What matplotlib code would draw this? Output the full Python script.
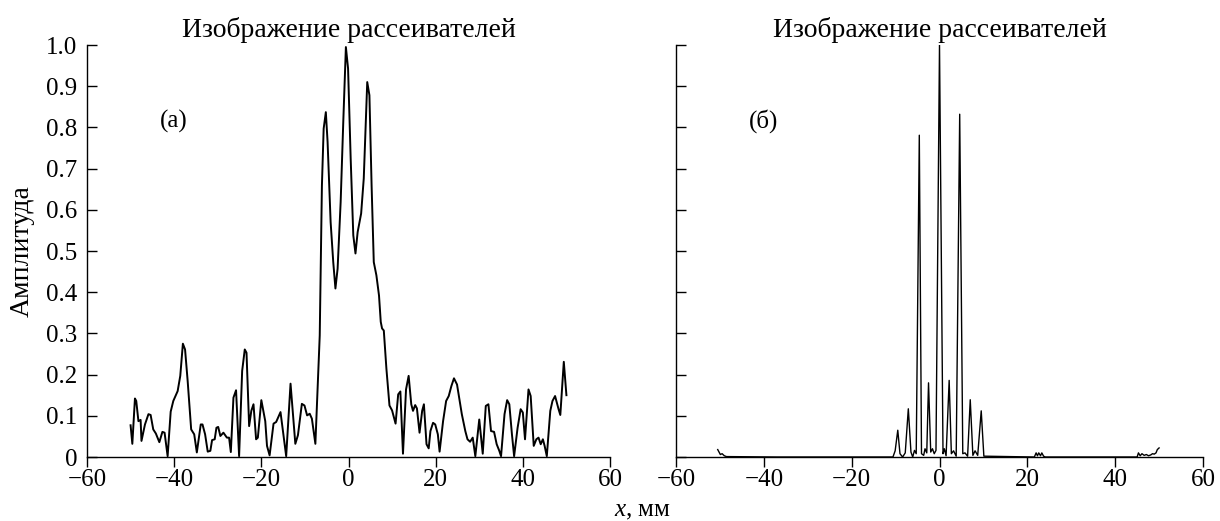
import matplotlib
matplotlib.use("Agg")
import matplotlib.pyplot as plt

plt.rcParams['font.family'] = ['Liberation Serif', 'DejaVu Serif']
plt.rcParams['mathtext.fontset'] = 'custom'
plt.rcParams['mathtext.it'] = 'Liberation Serif:italic'
plt.rcParams['mathtext.rm'] = 'Liberation Serif'

title_text = "Изображение рассеивателей"
ylabel_text = "Амплитуда"
xlabel_text = "$x$, мм"
panel_labels = ["(а)", "(б)"]

xticks = [-60, -40, -20, 0, 20, 40, 60]
xtick_labels = ["\u221260", "\u221240", "\u221220", "0", "20", "40", "60"]
yticks = [0, 0.1, 0.2, 0.3, 0.4, 0.5, 0.6, 0.7, 0.8, 0.9, 1.0]
ytick_labels = ["0", "0.1", "0.2", "0.3", "0.4", "0.5", "0.6", "0.7", "0.8", "0.9", "1.0"]

# Panel (a): conventional image
xa = [-50.0, -49.6, -49.0, -48.7, -48.2, -47.7, -47.5, -46.7, -45.9, -45.4, -44.8, -44.2,
      -43.4, -42.7, -42.2, -41.5, -40.8, -40.2, -39.2, -38.6, -38.0, -37.5, -36.9, -36.1,
      -35.4, -34.8, -33.9, -33.5, -32.9, -32.3, -31.7, -31.3, -30.7, -30.3, -29.9, -29.4,
      -28.7, -27.9, -27.4, -27.0, -26.4, -25.8, -25.1, -24.4, -23.8, -23.4, -22.8, -22.3,
      -21.8, -21.2, -20.8, -20.0, -19.1, -18.7, -18.1, -17.2, -16.6, -15.6, -14.3, -13.3,
      -12.2, -11.6, -10.7, -10.1, -9.5, -8.9, -8.4, -7.6, -6.6, -6.1, -5.7, -5.2, -4.8,
      -4.1, -3.5, -3.0, -2.5, -1.8, -1.2, -0.6, -0.1, 0.5, 1.1, 1.6, 2.1, 2.9, 3.5, 4.0,
      4.3, 4.8, 5.3, 5.8, 6.4, 7.0, 7.4, 7.7, 8.1, 8.7, 9.4, 10.0, 10.8, 11.4, 11.9, 12.5,
      13.2, 13.8, 14.4, 14.8, 15.3, 15.7, 16.3, 16.9, 17.3, 17.9, 18.4, 18.8, 19.4, 19.9,
      20.5, 20.9, 21.7, 22.4, 23.0, 23.6, 24.2, 24.9, 25.4, 26.0, 26.8, 27.3, 27.9, 28.5,
      29.1, 30.0, 30.8, 31.5, 32.1, 32.7, 33.4, 34.0, 34.6, 35.0, 35.8, 36.4, 36.9, 37.5,
      38.0, 38.8, 39.5, 40.0, 40.5, 41.3, 41.8, 42.5, 43.1, 43.6, 44.1, 44.6, 45.0, 45.5,
      46.3, 46.8, 47.4, 48.2, 48.6, 49.4, 50.0]
ya = [0.077, 0.032, 0.142, 0.136, 0.087, 0.09, 0.039, 0.079, 0.104, 0.102, 0.067, 0.057,
      0.036, 0.061, 0.059, 0.002, 0.11, 0.136, 0.16, 0.197, 0.275, 0.261, 0.184, 0.067,
      0.055, 0.011, 0.079, 0.079, 0.055, 0.013, 0.015, 0.041, 0.043, 0.071, 0.073, 0.051,
      0.059, 0.047, 0.047, 0.012, 0.144, 0.162, 0.002, 0.209, 0.261, 0.253, 0.075, 0.112,
      0.128, 0.043, 0.047, 0.138, 0.087, 0.027, 0.004, 0.081, 0.085, 0.109, 0.002, 0.178,
      0.032, 0.053, 0.129, 0.125, 0.101, 0.105, 0.093, 0.032, 0.295, 0.659, 0.797, 0.837,
      0.765, 0.570, 0.473, 0.409, 0.457, 0.619, 0.813, 0.995, 0.943, 0.724, 0.538, 0.494,
      0.546, 0.591, 0.676, 0.821, 0.910, 0.878, 0.659, 0.473, 0.441, 0.392, 0.328, 0.312,
      0.307, 0.214, 0.125, 0.113, 0.081, 0.152, 0.159, 0.008, 0.164, 0.197, 0.128, 0.112,
      0.126, 0.118, 0.059, 0.112, 0.128, 0.031, 0.021, 0.063, 0.083, 0.079, 0.055, 0.013,
      0.087, 0.136, 0.148, 0.172, 0.191, 0.176, 0.144, 0.104, 0.063, 0.043, 0.037, 0.047,
      0.002, 0.091, 0.008, 0.124, 0.128, 0.063, 0.061, 0.031, 0.015, 0.002, 0.104, 0.138,
      0.128, 0.055, 0.002, 0.071, 0.116, 0.108, 0.043, 0.164, 0.148, 0.027, 0.043, 0.047,
      0.031, 0.043, 0.027, 0.002, 0.112, 0.136, 0.148, 0.116, 0.102, 0.231, 0.150]

# Panel (b): processed image
xb = [-50.5, -49.9, -49.5, -49.0, -48.5, -37.0, -10.6, -10.1, -9.5, -9.0, -8.4, -7.8,
      -7.1, -6.5, -6.1, -5.7, -5.3, -4.6, -4.1, -3.6, -3.3, -2.9, -2.5, -2.0, -1.6, -1.2,
      -0.8, 0.0, 0.8, 1.1, 1.5, 2.2, 2.7, 3.2, 3.8, 4.6, 5.3, 5.8, 6.4, 7.0, 7.6, 8.1,
      8.7, 9.5, 10.1, 21.6, 22.0, 22.3, 22.6, 23.0, 23.3, 23.7, 24.1, 45.0, 45.3, 45.7,
      46.1, 46.6, 47.1, 47.6, 48.1, 48.5, 48.9, 49.3, 49.6, 50.0]
yb = [0.018, 0.006, 0.008, 0.003, 0.001, 0.0, 0.0, 0.015, 0.065, 0.008, 0.0, 0.010,
      0.117, 0.012, 0.0, 0.016, 0.008, 0.781, 0.008, 0.004, 0.020, 0.010, 0.180, 0.012,
      0.020, 0.008, 0.016, 1.0, 0.008, 0.020, 0.003, 0.186, 0.008, 0.015, 0.002, 0.832,
      0.008, 0.010, 0.002, 0.139, 0.004, 0.015, 0.004, 0.112, 0.002, 0.0, 0.010, 0.003,
      0.010, 0.003, 0.010, 0.002, 0.0, 0.0, 0.010, 0.003, 0.008, 0.004, 0.006, 0.003,
      0.005, 0.008, 0.007, 0.010, 0.018, 0.022]

fig = plt.figure(figsize=(12.2, 5.21), dpi=100)
ax1 = fig.add_axes([87/1220, 64/521, 523/1220, 412/521])
ax2 = fig.add_axes([676/1220, 64/521, 527/1220, 412/521])

ax1.plot(xa, ya, color='black', lw=1.4)
ax2.plot(xb, yb, color='black', lw=1.0)

for ax, lab in zip([ax1, ax2], panel_labels):
    ax.set_xlim(-60, 60)
    ax.set_ylim(0, 1.0)
    ax.spines['top'].set_visible(False)
    ax.spines['right'].set_visible(False)
    for s in ['left', 'bottom']:
        ax.spines[s].set_linewidth(1.0)
    ax.set_xticks(xticks)
    ax.set_xticklabels(xtick_labels)
    ax.set_yticks(yticks)
    ax.tick_params(axis='x', direction='out', length=7, width=1.0, pad=2, labelsize=18)
    ax.tick_params(axis='y', direction='in', length=7, width=1.0, pad=7, labelsize=18)
    ax.set_title(title_text, fontsize=20, pad=6)
    ax.text(-43.3, 0.815, lab, fontsize=18, ha='left', va='center')

ax1.set_yticklabels(ytick_labels)
ax2.set_yticklabels([])

fig.text(22/1220, 1 - 251/521, ylabel_text, rotation=90, ha='center', va='center', fontsize=20)
fig.text(642/1220, 5/521, xlabel_text, ha='center', va='baseline', fontsize=18)

fig.savefig("out.png", dpi=100)
